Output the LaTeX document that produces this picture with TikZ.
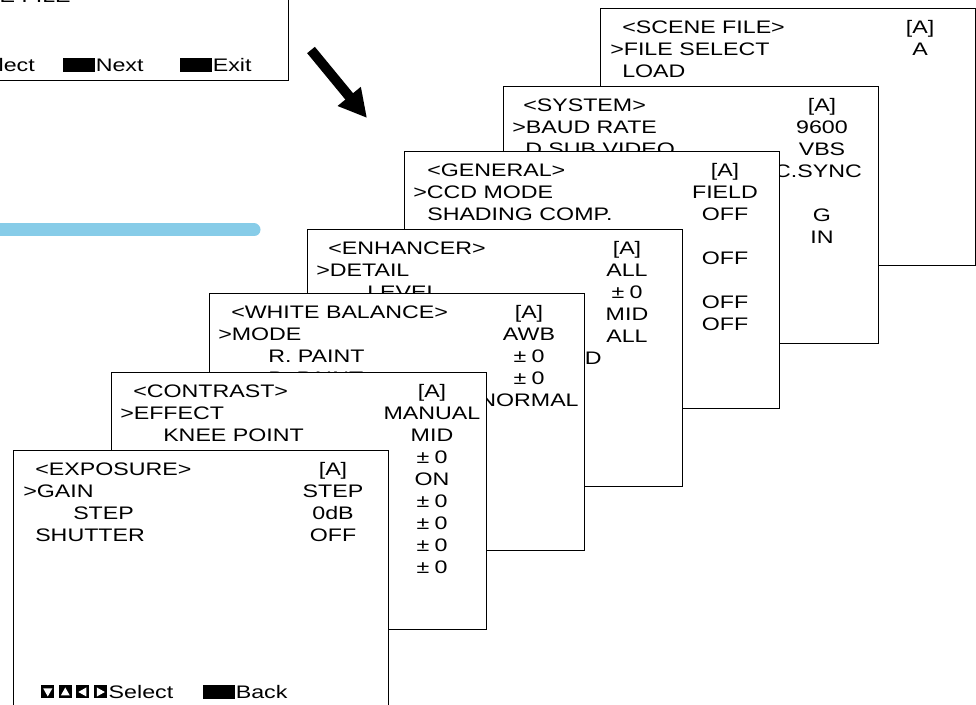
\documentclass[tikz,border=0pt]{standalone}
\usepackage{fontspec}
\setmainfont{Liberation Sans}[FakeStretch=1.28]
\usetikzlibrary{arrows.meta,positioning}
\definecolor{barblue}{RGB}{135,204,232}
\newcommand{\pmzero}{±\kern4pt 0}

\begin{document}
\begin{tikzpicture}[x=0.75pt, y=-0.75pt,
    screen/.style={draw, fill=white, line width=1.1pt, rectangle, anchor=north west, inner sep=0pt, minimum width=281.25pt, minimum height=192.75pt},
    txt/.style={inner sep=0pt, text height=9.75pt, text depth=0pt, font=\fontsize{13.6}{16}\selectfont},
    item/.style={txt, anchor=west},
    val/.style={txt, anchor=center},
    key/.style={fill=black, inner sep=0pt, minimum width=24pt, minimum height=10.5pt, anchor=west},
    icon/.style={fill=black, inner sep=0pt, minimum size=9.75pt, anchor=west},
    arrow/.style={-{Triangle[length=21pt, width=21pt]}, line width=7.5pt}
]

\useasboundingbox (0,0) rectangle (976,705);
\clip (0,0) rectangle (976,705);
\fill[white] (0,0) rectangle (976,705);

% Main menu (cut off at top left)
\node[screen] (mainscr) at (-87,-177) {};
\node[item] (mainscene) at ([shift={(22,173)}]mainscr.north west) {SCENE FILE};
\node[item, anchor=east] (mainsel) at ([shift={(122,242)}]mainscr.north west) {Select};
\node[key] (mainkey1) at ([shift={(150,242)}]mainscr.north west) {};
\node[item, right=0pt of mainkey1] (mainnext) {Next};
\node[key] (mainkey2) at ([shift={(267,242)}]mainscr.north west) {};
\node[item, right=0pt of mainkey2] (mainexit) {Exit};

% Arrow and bar
\coordinate (arrtail) at (311,50);
\coordinate (arrtip) at (367,118);
\draw[arrow] (arrtail) -- (arrtip);
\coordinate (barstart) at (-10,230);
\coordinate (barend) at (254,230);
\draw[barblue, line width=9.75pt, line cap=round] (barstart) -- (barend);

% Scene file
\node[screen] (scene) at (600,8) {};
\node[item] (scenetitle) at ([shift={(22,19)}]scene.north west) {<SCENE FILE>};
\node[item] (scenesel) at ([shift={(10,41)}]scene.north west) {>FILE SELECT};
\node[item] (sceneload) at ([shift={(22,63)}]scene.north west) {LOAD};
\node[val] (scenea) at ([shift={(320,19)}]scene.north west) {[A]};
\node[val] (scenefile) at ([shift={(320,41)}]scene.north west) {A};

% System
\node[screen] (sys) at (503,86) {};
\node[item] (systitle) at ([shift={(20,19)}]sys.north west) {<SYSTEM>};
\node[item] (sysbaud) at ([shift={(9,41)}]sys.north west) {>BAUD RATE};
\node[item] (sysdsub) at ([shift={(22,63)}]sys.north west) {D SUB VIDEO};
\node[val] (sysa) at ([shift={(319,19)}]sys.north west) {[A]};
\node[val] (sysrate) at ([shift={(319,41)}]sys.north west) {9600};
\node[val] (sysvbs) at ([shift={(319,63)}]sys.north west) {VBS};
\node[val] (syssync) at ([shift={(315,85)}]sys.north west) {C.SYNC};
\node[val] (sysg) at ([shift={(319,129)}]sys.north west) {G};
\node[val] (sysin) at ([shift={(319,151)}]sys.north west) {IN};

% General
\node[screen] (gen) at (404,151) {};
\node[item] (gentitle) at ([shift={(23,19)}]gen.north west) {<GENERAL>};
\node[item] (genccd) at ([shift={(9,41)}]gen.north west) {>CCD MODE};
\node[item] (genshade) at ([shift={(23,63)}]gen.north west) {SHADING COMP.};
\node[val] (gena) at ([shift={(321,19)}]gen.north west) {[A]};
\node[val] (genfield) at ([shift={(321,41)}]gen.north west) {FIELD};
\node[val] (genoff1) at ([shift={(321,63)}]gen.north west) {OFF};
\node[val] (genoff2) at ([shift={(321,107)}]gen.north west) {OFF};
\node[val] (genoff3) at ([shift={(321,151)}]gen.north west) {OFF};
\node[val] (genoff4) at ([shift={(321,173)}]gen.north west) {OFF};

% Enhancer
\node[screen] (enh) at (307,229) {};
\node[item] (enhtitle) at ([shift={(21,19)}]enh.north west) {<ENHANCER>};
\node[item] (enhdetail) at ([shift={(9,41)}]enh.north west) {>DETAIL};
\node[item] (enhlevel) at ([shift={(60,63)}]enh.north west) {LEVEL};
\node[val] (enha) at ([shift={(320,19)}]enh.north west) {[A]};
\node[val] (enhall1) at ([shift={(320,41)}]enh.north west) {ALL};
\node[val] (enhlev) at ([shift={(320,63)}]enh.north west) {\pmzero};
\node[val] (enhmid) at ([shift={(320,85)}]enh.north west) {MID};
\node[val] (enhall2) at ([shift={(320,107)}]enh.north west) {ALL};
\node[item, anchor=east] (enhd) at ([shift={(295,129)}]enh.north west) {D};

% White balance
\node[screen] (wb) at (209,293) {};
\node[item] (wbtitle) at ([shift={(22,19)}]wb.north west) {<WHITE BALANCE>};
\node[item] (wbmode) at ([shift={(9,41)}]wb.north west) {>MODE};
\node[item] (wbr) at ([shift={(59,63)}]wb.north west) {R. PAINT};
\node[item] (wbb) at ([shift={(59,85)}]wb.north west) {B. PAINT};
\node[val] (wba) at ([shift={(320,19)}]wb.north west) {[A]};
\node[val] (wbawb) at ([shift={(320,41)}]wb.north west) {AWB};
\node[val] (wbrval) at ([shift={(320,63)}]wb.north west) {\pmzero};
\node[val] (wbbval) at ([shift={(320,85)}]wb.north west) {\pmzero};
\node[val] (wbnormal) at ([shift={(320,107)}]wb.north west) {NORMAL};

% Contrast
\node[screen] (con) at (111,372) {};
\node[item] (contitle) at ([shift={(22,19)}]con.north west) {<CONTRAST>};
\node[item] (coneffect) at ([shift={(9,41)}]con.north west) {>EFFECT};
\node[item] (conknee) at ([shift={(52,63)}]con.north west) {KNEE POINT};
\node[val] (cona) at ([shift={(321,19)}]con.north west) {[A]};
\node[val] (conmanual) at ([shift={(321,41)}]con.north west) {MANUAL};
\node[val] (conmid) at ([shift={(321,63)}]con.north west) {MID};
\node[val] (conv1) at ([shift={(321,85)}]con.north west) {\pmzero};
\node[val] (conon) at ([shift={(321,107)}]con.north west) {ON};
\node[val] (conv2) at ([shift={(321,129)}]con.north west) {\pmzero};
\node[val] (conv3) at ([shift={(321,151)}]con.north west) {\pmzero};
\node[val] (conv4) at ([shift={(321,173)}]con.north west) {\pmzero};
\node[val] (conv5) at ([shift={(321,195)}]con.north west) {\pmzero};

% Exposure
\node[screen] (exp) at (13,450) {};
\node[item] (exptitle) at ([shift={(22,19)}]exp.north west) {<EXPOSURE>};
\node[item] (expgain) at ([shift={(10,41)}]exp.north west) {>GAIN};
\node[item] (expstep) at ([shift={(60,63)}]exp.north west) {STEP};
\node[item] (expshut) at ([shift={(22,85)}]exp.north west) {SHUTTER};
\node[val] (expa) at ([shift={(320,19)}]exp.north west) {[A]};
\node[val] (expgainval) at ([shift={(320,41)}]exp.north west) {STEP};
\node[val] (expdb) at ([shift={(320,63)}]exp.north west) {0dB};
\node[val] (expoff) at ([shift={(320,85)}]exp.north west) {OFF};

% Exposure key line
\node[icon] (icdown) at ([shift={(28,242)}]exp.north west) {};
\node[icon, right=3pt of icdown] (icup) {};
\node[icon, right=3pt of icup] (icleft) {};
\node[icon, right=3pt of icleft] (icright) {};
\fill[white] ([shift={(-4.5,-3.5)}]icdown.center) -- ([shift={(4.5,-3.5)}]icdown.center) -- ([shift={(0,4.5)}]icdown.center) -- cycle;
\fill[white] ([shift={(-4.5,3.5)}]icup.center) -- ([shift={(4.5,3.5)}]icup.center) -- ([shift={(0,-4.5)}]icup.center) -- cycle;
\fill[white] ([shift={(3.5,-4.5)}]icleft.center) -- ([shift={(3.5,4.5)}]icleft.center) -- ([shift={(-4.5,0)}]icleft.center) -- cycle;
\fill[white] ([shift={(-3.5,-4.5)}]icright.center) -- ([shift={(-3.5,4.5)}]icright.center) -- ([shift={(4.5,0)}]icright.center) -- cycle;
\node[item, right=1pt of icright] (expsel) {Select};
\node[key] (expkey) at ([shift={(190,242)}]exp.north west) {};
\node[item, right=0pt of expkey] (expback) {Back};

\end{tikzpicture}
\end{document}
